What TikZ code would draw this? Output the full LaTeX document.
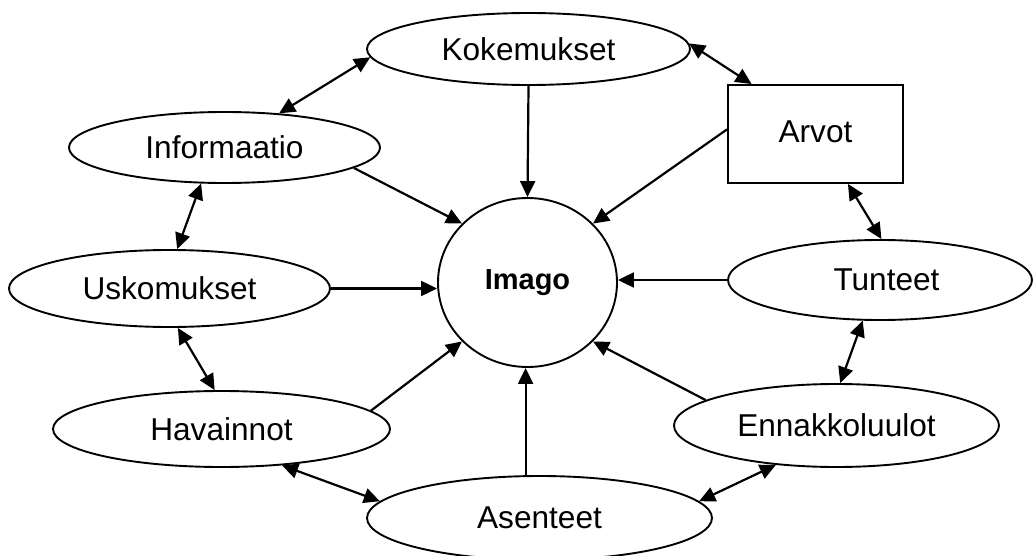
\documentclass[tikz,border=0pt]{standalone}
\usepackage{fontspec}
\setmainfont{Liberation Sans}
\usetikzlibrary{shapes.geometric,arrows.meta}
\begin{document}
\begin{tikzpicture}[x=1pt,y=-1pt,
  every node/.style={font=\fontsize{31.6}{38}\selectfont},
  oval/.style={ellipse, draw, line width=1.9pt, inner sep=0pt},
  box/.style={rectangle, draw, line width=1.9pt, inner sep=0pt},
  >={Triangle[length=16pt,width=15pt]},
  flow/.style={line width=2.2pt, ->},
  both/.style={line width=2.2pt, <->}]
\useasboundingbox (0,0) rectangle (1033,556);

% concepts around the centre
\node[oval, minimum width=323pt, minimum height=72pt] (kok) at (528.5,49) {Kokemukset};
\node[oval, minimum width=311pt, minimum height=71pt] (inf) at (224.5,147.5) {Informaatio};
\node[oval, minimum width=321pt, minimum height=77pt] (usk) at (169.5,288.5) {Uskomukset};
\node[oval, minimum width=337pt, minimum height=76pt] (hav) at (221.5,429) {Havainnot};
\node[oval, minimum width=345pt, minimum height=84pt] (ase) at (539.5,518) {Asenteet};
\node[oval, minimum width=325pt, minimum height=83pt] (enn) at (836.5,425.5) {Ennakkoluulot};
\node[oval, minimum width=304pt, minimum height=80pt] (tun) at (880,280) {\hspace*{13pt}Tunteet};
\node[box, minimum width=175pt, minimum height=98pt] (arv) at (815.5,134) {\raisebox{5pt}{Arvot}};

% centre
\node[oval, minimum width=179pt, minimum height=169pt,
      font=\fontsize{29}{35}\selectfont\bfseries] (img) at (527.5,282.5) {Imago};

% influences on the centre
\draw[flow] (kok.south) -- (img.north);
\draw[flow] (inf.351) -- (img.138);
\draw[flow] (usk.east) -- (usk.east -| img.west);
\draw[flow] (hav.7) -- (img.222);
\draw[flow] (ase.108) -- (ase.108 |- img.south);
\draw[flow] (enn.169) -- (img.318);
\draw[flow] (tun.west) -- (tun.west -| img.east);
\draw[flow] (arv.177) -- (img.42);

% links between neighbouring concepts
\draw[both] (kok.2) -- (arv.142);
\draw[both] (kok.183) -- (inf.32);
\draw[both] (inf.237) -- (usk.79);
\draw[both] (usk.282) -- (hav.100);
\draw[both] (hav.329) -- (ase.174);
\draw[both] (ase.6) -- (enn.213);
\draw[both] (tun.247) -- (enn.85);
\draw[both] (arv.303) -- (tun.88);
\end{tikzpicture}
\end{document}
